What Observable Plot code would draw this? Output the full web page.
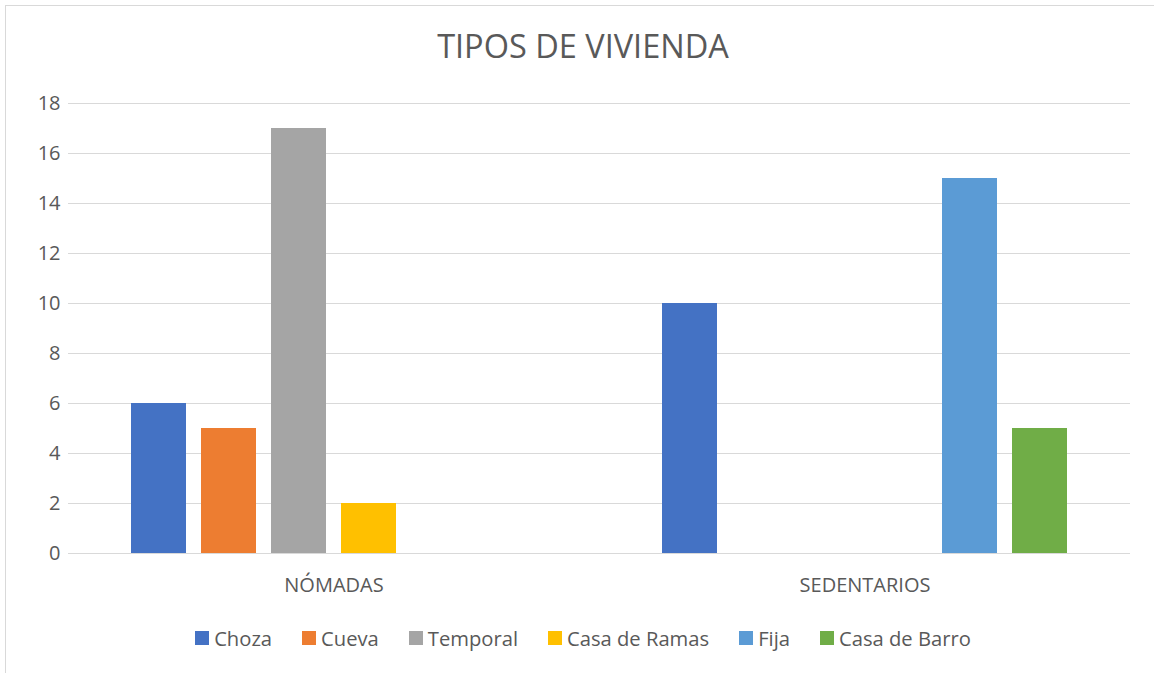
<!DOCTYPE html>
<html><head><meta charset="utf-8">
<script src="https://cdn.jsdelivr.net/npm/d3@7"></script>
<script src="https://cdn.jsdelivr.net/npm/@observablehq/plot@0.6"></script>
<style>
body{margin:0;background:#fff;font-family:"Open Sans",sans-serif;color:#595959}
#wrap{position:relative;width:1154px;height:673px;overflow:hidden}
#frame{position:absolute;left:5px;top:5px;width:1200px;height:700px;border-left:1px solid #d9d9d9;border-top:1px solid #d9d9d9}
#title{position:absolute;left:5px;width:1156px;top:26px;text-align:center;font-size:32.5px;line-height:40px}
#chart{position:absolute;left:0;top:80px}
#legend{position:absolute;left:5px;width:1156px;top:624px;display:flex;justify-content:center;gap:30px;font-size:20.2px;line-height:28px}
.item{display:flex;align-items:center}
.sw{width:14px;height:14px;margin-right:5px}
</style></head><body>
<div id="wrap"><div id="frame"></div><div id="title">TIPOS DE VIVIENDA</div><div id="chart"></div><div id="legend"></div></div>
<script>
const groups = ["NÓMADAS", "SEDENTARIOS"];
const series = ["Choza", "Cueva", "Temporal", "Casa de Ramas", "Fija", "Casa de Barro"];
const colors = ["#4472C4", "#ED7D31", "#A5A5A5", "#FFC000", "#5B9BD5", "#70AD47"];
const nomadas = [6, 5, 17, 2, 0, 0];
const sedentarios = [10, 0, 0, 0, 15, 5];
const yTicks = [0, 2, 4, 6, 8, 10, 12, 14, 16, 18];

const values = [nomadas, sedentarios];
const data = [];
groups.forEach((g, gi) => series.forEach((s, si) => data.push({group: g, series: s, value: values[gi][si]})));

const chart = Plot.plot({
  width: 1154, height: 523,
  marginTop: 23, marginBottom: 50, marginLeft: 68, marginRight: 24,
  style: {fontFamily: "Open Sans", fontSize: "20px", color: "#595959", background: "transparent"},
  fx: {domain: groups, padding: 0, label: null, tickSize: 0, tickPadding: 24, axis: "bottom"},
  x: {domain: series, paddingInner: 0.213, paddingOuter: 0.87, axis: null},
  y: {domain: [0, 18], ticks: yTicks, label: null, tickSize: 0, tickPadding: 8},
  color: {domain: series, range: colors},
  marks: [
    Plot.gridY(yTicks, {stroke: "#D9D9D9", strokeOpacity: 1, strokeWidth: 1}),
    Plot.barY(data, {fx: "group", x: "series", y: "value", fill: "series"}),
    Plot.ruleY([0], {stroke: "#D9D9D9", strokeWidth: 1})
  ]
});
document.getElementById("chart").appendChild(chart);

const legend = document.getElementById("legend");
series.forEach((s, i) => {
  const it = document.createElement("div"); it.className = "item";
  const sw = document.createElement("div"); sw.className = "sw"; sw.style.background = colors[i];
  const t = document.createElement("span"); t.textContent = s;
  it.appendChild(sw); it.appendChild(t); legend.appendChild(it);
});
</script>
</body></html>
